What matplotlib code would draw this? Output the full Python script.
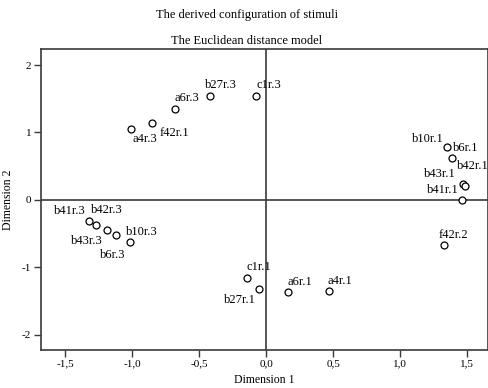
import matplotlib
matplotlib.use("Agg")
import matplotlib.pyplot as plt
from matplotlib.ticker import FuncFormatter

labels = ["a4r.3", "f42r.1", "a6r.3", "b27r.3", "c1r.3",
          "c1r.1", "b27r.1", "a6r.1", "a4r.1",
          "b41r.3", "b42r.3", "b43r.3", "b10r.3", "b6r.3",
          "b10r.1", "b6r.1", "b42r.1", "b43r.1", "b41r.1", "f42r.2"]
dim1 = [-1.009, -0.851, -0.680, -0.422, -0.074,
        -0.141, -0.055, 0.166, 0.468,
        -1.319, -1.267, -1.190, -1.120, -1.014,
        1.350, 1.383, 1.469, 1.484, 1.462, 1.326]
dim2 = [1.058, 1.148, 1.351, 1.538, 1.543,
        -1.167, -1.330, -1.370, -1.351,
        -0.319, -0.373, -0.447, -0.516, -0.630,
        0.788, 0.625, 0.240, 0.204, -0.003, -0.674]
# label offsets in pixels (left edge, vertical centre) relative to point
label_dx = [2, 7, -1, -5, 0,
            -1, -35, -1, -1,
            -35, -5, -36, 10, -30,
            -35, 1, -6, -41, -35, -5]
label_dy = [-10, -10, 11, 11, 11,
            11, -11, 10, 10,
            10, 15, -11, 3, -13,
            8, 10, 18, 12, 10, 10]

xticks = [-1.5, -1.0, -0.5, 0.0, 0.5, 1.0, 1.5]
yticks = [-2, -1, 0, 1, 2]

W, H = 489, 388
fig = plt.figure(figsize=(W / 100, H / 100), dpi=100)
serif = "Liberation Serif"
plt.rcParams["font.family"] = serif

left, right, top, bottom = 41, 488, 49, 350
ax = fig.add_axes([left / W, 1 - bottom / H, (right - left) / W, (bottom - top) / H])

spine_col = "#3a3a3a"
ax.axvline(0, color=spine_col, lw=1.2, zorder=1)
ax.axhline(0, color=spine_col, lw=1.2, zorder=1)

ax.plot(dim1, dim2, "o", ms=5, mfc="white", mec="black", mew=0.9, zorder=3)
for lab, x, y, dx, dy in zip(labels, dim1, dim2, label_dx, label_dy):
    ax.annotate(lab, (x, y), xytext=(dx, dy), textcoords="offset pixels",
                ha="left", va="center", fontsize=9, family=serif, zorder=4)

ax.set_xlim(-1.68, 1.655)
ax.set_ylim(-2.23, 2.24)
ax.set_xticks(xticks)
ax.set_yticks(yticks)
ax.xaxis.set_major_formatter(FuncFormatter(lambda v, p: f"{v:.1f}".replace(".", ",")))
ax.yaxis.set_major_formatter(FuncFormatter(lambda v, p: f"{int(round(v))}"))
ax.tick_params(direction="out", length=5, width=1.0, color=spine_col,
               labelsize=8, pad=2)
for s in ax.spines.values():
    s.set_color(spine_col)
    s.set_linewidth(1.2)

ax.set_xlabel("Dimension 1", fontsize=8.5, family=serif, labelpad=4)
ax.set_ylabel("Dimension 2", fontsize=8.5, family=serif, labelpad=6)

fig.text(247 / W, 1 - 15 / H, "The derived configuration of stimuli",
         ha="center", va="center", fontsize=9, family=serif)
fig.text(247 / W, 1 - 41 / H, "The Euclidean distance model",
         ha="center", va="center", fontsize=9, family=serif)

fig.savefig("out.png", dpi=100)
